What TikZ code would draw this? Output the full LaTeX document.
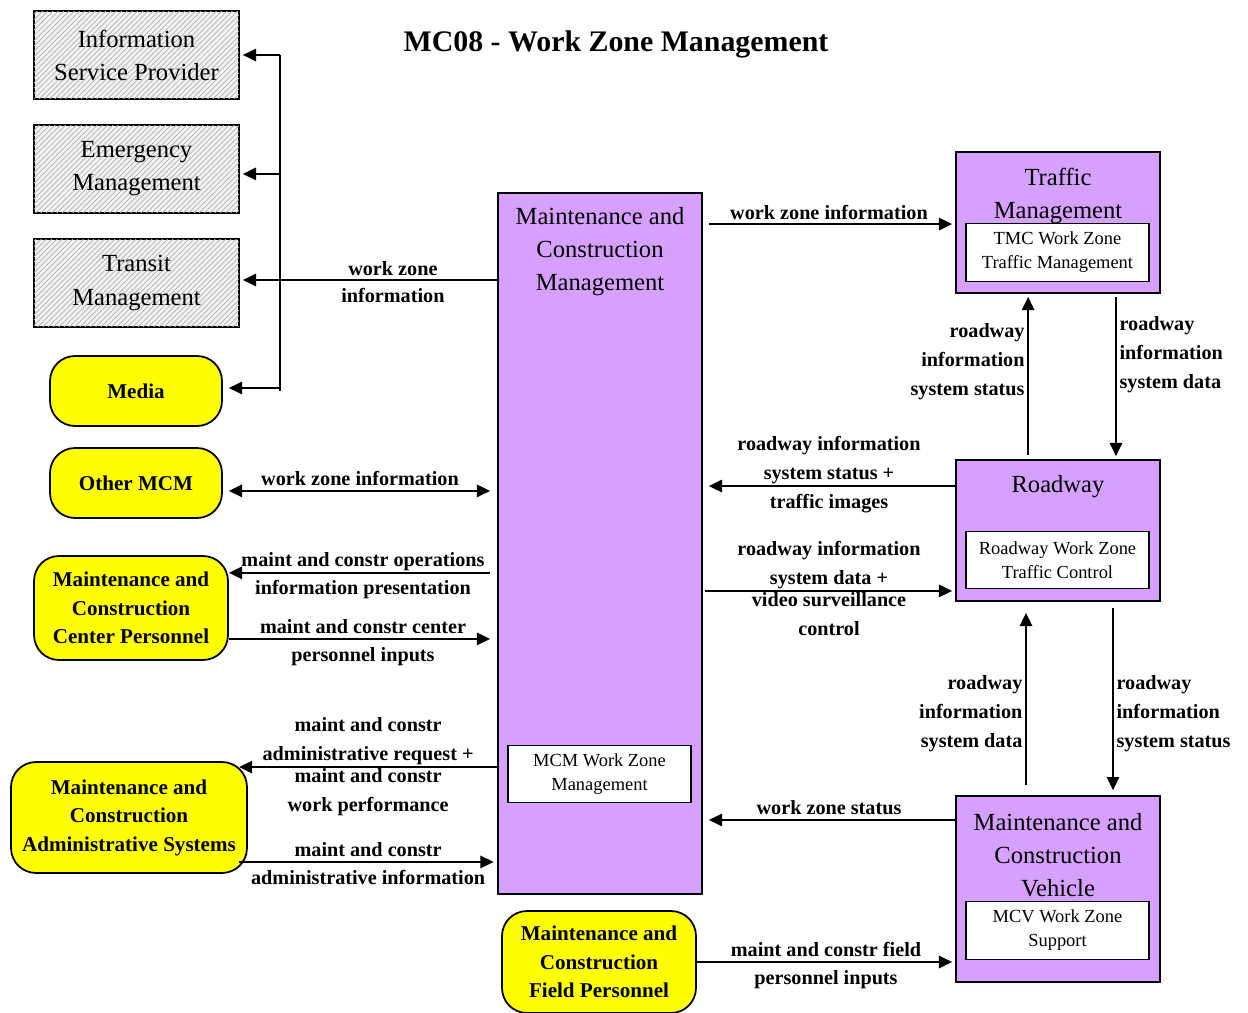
\documentclass[tikz,border=0pt]{standalone}
\usepackage{fontspec}
\setmainfont{Liberation Serif}
\usetikzlibrary{arrows.meta,patterns,positioning}

\definecolor{mcpurple}{RGB}{214,160,255}
\definecolor{termyellow}{RGB}{255,255,0}

\begin{document}
\begin{tikzpicture}[
    x=0.02cm,
    y=-0.02cm,
    >={Triangle[length=7.5pt,width=7pt]},
    flow/.style={->,line width=1.1pt},
    bothflow/.style={<->,line width=1.1pt},
    hatchbox/.style={draw,line width=1pt,fill=gray!10,
      postaction={pattern=north east lines,pattern color=gray!60},
      minimum width=4.10cm,minimum height=1.76cm,inner sep=0pt,
      align=center,font=\fontsize{14}{18.8}\selectfont},
    termbox/.style={draw,line width=1pt,fill=termyellow,rounded corners=0.5cm,
      inner sep=0pt,align=center,font=\fontsize{12}{16.2}\selectfont\bfseries},
    sysbox/.style={draw,line width=1pt,fill=mcpurple,inner sep=0pt,
      minimum width=4.08cm},
    systitle/.style={align=center,inner sep=0pt,
      font=\fontsize{14}{18.8}\selectfont},
    subbox/.style={draw,line width=0.8pt,fill=white,minimum width=3.66cm,
      minimum height=1.15cm,inner sep=0pt,align=center,
      font=\fontsize{10.5}{13.7}\selectfont},
    flowlabel/.style={font=\fontsize{11.5}{16.5}\selectfont\bfseries,
      align=center,inner xsep=1.5pt,inner ysep=0.5pt},
    labelabove/.style={flowlabel,above,
      execute at end node={\rule[-1.8pt]{0pt}{1pt}}},
    labelbelow/.style={flowlabel,below,execute at begin node=\strut}
  ]
    \useasboundingbox (0,0) rectangle (1248,1013);

    \node[font=\fontsize{17}{20}\selectfont\bfseries] (title) at (616,44)
      {MC08 - Work Zone Management};

    % outside terminators
    \node[hatchbox] (isp) at (136.5,55) {Information\\Service Provider};
    \node[hatchbox] (em) at (136.5,169) {Emergency\\Management};
    \node[hatchbox] (tm) at (136.5,283) {Transit\\Management};
    \node[termbox,minimum width=3.44cm,minimum height=1.40cm] (media)
      at (136,391) {Media};
    \node[termbox,minimum width=3.44cm,minimum height=1.40cm] (othermcm)
      at (136,483) {Other MCM};
    \node[termbox,minimum width=3.88cm,minimum height=2.08cm] (mccp)
      at (131,608) {Maintenance and\\Construction\\Center Personnel};
    \node[termbox,minimum width=4.72cm,minimum height=2.22cm] (mcas)
      at (129,817.5) {Maintenance and\\Construction\\Administrative Systems};
    \node[termbox,minimum width=3.88cm,minimum height=2.04cm] (mcfp)
      at (599,962) {Maintenance and\\Construction\\Field Personnel};

    % subsystems
    \node[sysbox,minimum height=14.02cm] (mcm) at (600,543.5) {};
    \node[systitle] (mcmtitle) at (600,252)
      {Maintenance and\\Construction\\Management};
    \node[subbox] (mcmsub) at (599.5,774) {MCM Work Zone\\Management};

    \node[sysbox,minimum height=2.82cm] (traffic) at (1058,222.5) {};
    \node[systitle] (traffictitle) at (1058,196) {Traffic\\Management};
    \node[subbox] (tmcsub) at (1057.5,252.5)
      {TMC Work Zone\\Traffic Management};

    \node[sysbox,minimum height=2.82cm] (roadway) at (1058,530.5) {};
    \node[systitle] (roadwaytitle) at (1058,487) {Roadway};
    \node[subbox] (rwsub) at (1057.5,560)
      {Roadway Work Zone\\Traffic Control};

    \node[sysbox,minimum height=3.72cm] (mcv) at (1058,889) {};
    \node[systitle] (mcvtitle) at (1058,855)
      {Maintenance and\\Construction\\Vehicle};
    \node[subbox] (mcvsub) at (1057.5,930.5) {MCV Work Zone\\Support};

    % work zone information fan-out
    \coordinate (bus) at (280,0);
    \coordinate (tmin) at ([yshift=1.7pt]tm.east);
    \draw[line width=1.1pt] (isp.east -| bus) -- (media.east -| bus);
    \draw[flow] (isp.east -| bus) -- ([xshift=1.7pt]isp.east);
    \draw[flow] ([yshift=-2.8pt]em.east -| bus) -- ([xshift=1.7pt,yshift=-2.8pt]em.east);
    \draw[flow] ([yshift=1.7pt]media.east -| bus) -- ([xshift=3.4pt,yshift=1.7pt]media.east);
    \draw[flow] (mcm.west |- tmin)
      -- node[labelabove,pos=0.41] {work zone}
         node[labelbelow,pos=0.41] {information}
      ([xshift=1.7pt]tmin);

    \coordinate (omcm) at ([yshift=-4.5pt]othermcm.east);
    \draw[bothflow,shorten <=3.4pt,shorten >=4pt] (omcm)
      -- node[labelabove] {work zone information} (omcm -| mcm.west);

    % center personnel
    \coordinate (mccp out) at ([yshift=20pt]mccp.east);
    \coordinate (mccp in) at ([yshift=-17.6pt]mccp.east);
    \draw[flow,shorten <=4pt] (mccp out -| mcm.west)
      -- node[labelabove] {maint and constr operations}
         node[labelbelow] {information presentation}
      (mccp out);
    \draw[flow,shorten >=4pt] (mccp in)
      -- node[labelabove] {maint and constr center}
         node[labelbelow] {personnel inputs}
      (mccp in -| mcm.west);

    % administrative systems
    \coordinate (mcas out) at ([xshift=-5pt,yshift=28.7pt]mcas.east);
    \coordinate (mcas in) at ([xshift=-5pt,yshift=-25.3pt]mcas.east);
    \draw[flow] (mcas out -| mcm.west)
      -- node[labelabove] {maint and constr\\administrative request +}
         node[labelbelow] {maint and constr\\work performance}
      (mcas out);
    \draw[flow,shorten >=2pt] (mcas in)
      -- node[labelabove] {maint and constr}
         node[labelbelow] {administrative information}
      (mcas in -| mcm.west);

    % field personnel
    \draw[flow,shorten >=1.7pt] (mcfp.east)
      -- node[labelabove] {maint and constr field}
         node[labelbelow] {personnel inputs}
      (mcfp.east -| mcv.west);

    % right hand side
    \coordinate (tmcin) at ([yshift=-0.9pt]traffic.west);
    \draw[flow,shorten <=3.4pt,shorten >=1.7pt] (mcm.east |- tmcin)
      -- node[labelabove] {work zone information} (tmcin);

    \coordinate (rw out) at ([yshift=25.3pt]roadway.west);
    \coordinate (rw in) at ([yshift=-34.4pt]roadway.west);
    \draw[flow,shorten >=3.4pt] (rw out)
      -- node[labelabove] {roadway information\\system status +}
         node[labelbelow] {traffic images}
      (rw out -| mcm.east);
    \draw[flow,shorten <=1pt,shorten >=1.7pt] (rw in -| mcm.east)
      -- node[labelabove] {roadway information\\system data +}
         node[labelbelow] {video surveillance\\control}
      (rw in);

    \coordinate (mcv out) at ([yshift=39.3pt]mcv.west);
    \draw[flow,shorten >=3.4pt] (mcv out)
      -- node[labelabove] {work zone status} (mcv out -| mcm.east);

    \draw[flow,shorten <=2.3pt,shorten >=1.7pt] ([xshift=-17pt]roadway.north)
      -- node[flowlabel,pos=0.59,left,align=right]
           {roadway\\information\\system status}
      ([xshift=-17pt]traffic.south);
    \draw[flow,shorten <=1.7pt,shorten >=1.7pt] ([xshift=33pt]traffic.south)
      -- node[flowlabel,pos=0.37,right,align=left]
           {roadway\\information\\system data}
      ([xshift=33pt]roadway.north);
    \draw[flow,shorten <=5.7pt,shorten >=6.3pt] ([xshift=-18.2pt]mcv.north)
      -- node[flowlabel,pos=0.42,left,align=right]
           {roadway\\information\\system data}
      ([xshift=-18.2pt]roadway.south);
    \draw[flow,shorten <=3.4pt,shorten >=2.8pt] ([xshift=31.3pt]roadway.south)
      -- node[flowlabel,pos=0.58,right,align=left]
           {roadway\\information\\system status}
      ([xshift=31.3pt]mcv.north);
  \end{tikzpicture}
\end{document}
